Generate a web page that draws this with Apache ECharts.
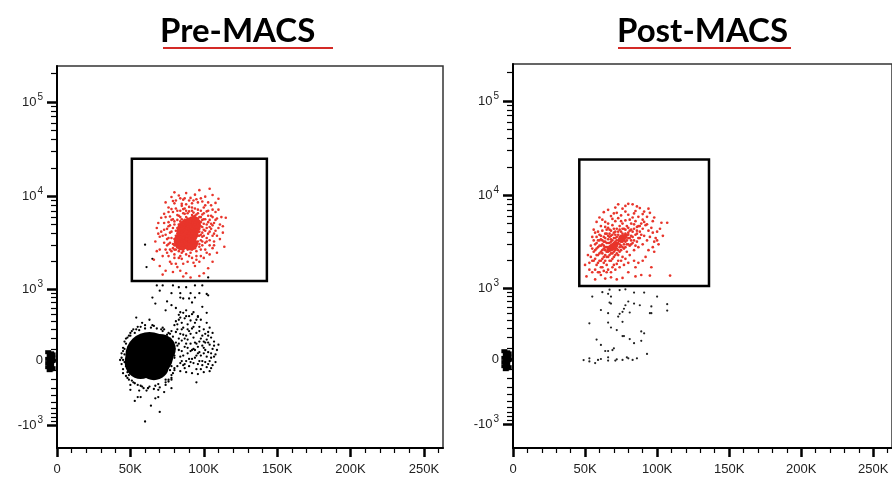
<!DOCTYPE html>
<html><head><meta charset="utf-8">
<script src="https://cdn.jsdelivr.net/npm/echarts@6/dist/echarts.min.js"></script>
<style>html,body{margin:0;padding:0;background:#fff}#c{width:892px;height:477px}</style>
</head><body><div id="c"></div><script>
// ---------- data (x in thousands, y raw fluorescence) ----------
const panelTitles = ['Pre-MACS', 'Post-MACS'];
const xMajorVals = [0, 50, 100, 150, 200, 250];
const xMajorLabels = ['0', '50K', '100K', '150K', '200K', '250K'];
const xMinorVals = [10,20,30,40,60,70,80,90,110,120,130,140,160,170,180,190,210,220,230,240,260];
const yMajorVals = [-1000, 0, 1000, 10000, 100000];
const yMajorLabels = ['-10{s|3}', '0', '10{s|3}', '10{s|4}', '10{s|5}'];
const yMinorVals = [-900,-800,-700,-600,-500,-400,-300,-200,-100,100,200,300,400,500,600,700,800,900,
  2000,3000,4000,5000,6000,7000,8000,9000,20000,30000,40000,50000,60000,70000,80000,90000,200000];

const preGate = [[51, 1230], [143, 25000]];
const postGate = [[46, 1055], [136, 24000]];

const preRed = [
[66,2100],[68,2600],[67,3300],[70,1800],[71,4200],[69,5200],[72,2300],[73,6500],[74,1600],[75,3000],[76,7600],[74,8600],[78,9800],[80,11000],[83,10200],[86,9200],[88,10800],[91,9600],[94,10400],[97,11600],[101,9900],[104,12000],[106,10300],[108,8500],[110,7200],[112,6000],[115,5900],[113,4800],[111,3500],[114,2900],[109,2500],[106,2000],[103,1700],[100,1500],[97,1400],[94,1800],[91,1350],[88,1500],[86,1380],[84,1600],[81,1900],[79,1550],[77,2000],[72,1450],[70,3700],[68,4600],[113,4100],[110,9400],[99,8800],[85,8300],
[75,4500],[76,3600],[77,2700],[78,5600],[78,4200],[79,3100],[79,6800],[80,2400],[80,5000],[81,3800],[81,7400],[82,2900],[82,4600],[83,6200],[83,2200],[84,3400],[84,5400],[85,4100],[85,7900],[86,2600],[86,6600],[87,3700],[87,4900],[88,2900],[88,8200],[89,5800],[89,3300],[90,4400],[90,6900],[91,2500],[91,3900],[92,5200],[92,7600],[93,3000],[93,4700],[94,6200],[94,3500],[95,2300],[95,5500],[96,4200],[96,7200],[97,3100],[97,6000],[98,4800],[98,2700],[99,5600],[99,3700],[100,4400],[100,6600],[101,3200],[102,5000],[102,2500],[103,4000],[103,7000],[104,5600],[104,3400],[105,4500],[105,6200],[106,3800],[107,5200],[108,4300],[106,2800],[101,8000],[96,8600],[90,9000],[84,9500],[80,8400],[77,6100],[76,5300],[74,3900],[73,3200],[75,2500],[78,1900],[82,1750],[86,1900],[89,2000],[93,1950],[97,2000],[100,2200],[104,2400],[107,3300],[109,5800],[108,6800],[105,8000],[100,7600],
[80,3500],[81,4300],[82,3200],[83,5000],[83,3800],[84,4500],[84,2800],[85,3300],[85,5700],[86,4300],[86,3600],[87,5200],[87,2900],[88,4600],[88,3500],[88,6000],[89,4000],[89,2700],[90,3600],[90,5100],[91,4700],[91,3200],[92,4000],[92,6300],[93,3700],[93,5500],[94,4300],[94,2800],[95,3900],[95,4700],[96,3300],[96,5800],[97,4500],[97,3800],[98,5300],[98,3400],[99,4100],[99,6400],[86,5000],[87,6500],[84,6000],[82,5600],[81,2700],[89,6600],[91,5800],[93,6700],[95,6400],[97,2900],[92,2700],[85,2500],
[71,5900],[73,4400],[74,2700],[76,2300],[79,8900],[82,7000],[87,7400],[92,8400],[95,9300],[102,6900],[104,4700],[106,6000],[107,4000],[102,3600],[99,3000],[95,2600],[90,2300],[85,2150],[80,2200],[78,2600],[76,3100],[77,4900],[79,5700],
[79,4600],[80,5400],[81,3100],[82,4000],[83,4400],[83,2600],[84,3700],[85,4800],[86,3000],[87,4400],[87,5600],[88,3200],[89,4800],[89,5400],[90,3300],[90,4000],[91,4300],[91,5300],[92,3500],[92,4500],[93,4200],[93,6100],[94,3800],[94,5000],[95,3200],[95,4400],[96,3800],[96,5100],[97,4200],[97,5400],[98,3900],[98,6000],[99,4700],[99,3300],[100,5100],[100,3800],[101,4300],[101,5700],[102,4600],[102,3300],[103,5300],[104,4200],[78,3600],[77,4100],[76,4800],[79,2800],[80,3000],[82,6300],[84,7000],[86,7300],[88,7000],[90,7700],[92,7000],[94,7400],[96,6600],[98,7000],[100,5700],[103,6200],[105,5100],[106,4900],[108,5600],[110,4600],[109,3800],[107,3000],[104,3000],[101,2700],[98,2300],[95,2100],[92,2200],[88,2400],[84,2300],[80,2700],[77,3200],[75,3500],[73,5200],[74,6000],[76,6800],[78,7300],[81,9000],[87,9500],[93,9000],[98,9500],[103,8600],[106,7200],[111,5000],[72,3800],[70,2700],[69,4000]
];
const preRedCore = [[89, 4200], [85, 3300], [93, 5000], [91, 3100]];

const preBlackCore = [[63, 45], [57, -20], [70, 100], [66, -60]];
const preBlack = [
[68,1100],[72,1100],[79,1100],[83,1050],[88,1050],[94,1100],[99,1100],[65,800],[84,800],[90,780],[94,800],[103,850],
[78,900],[84,900],[91,900],[97,900],[102,880],[86,780],[92,700],[67,680],[78,650],[99,620],[74,560],[84,530],[93,530],[102,520],
[54,450],[63,420],[83,490],[90,470],[95,420],[60,3050],[65,2150],[61,1750],[103,1350],[70,960],[75,720],[81,600],[88,560],[96,470],
[82,300],[84,250],[85,180],[86,320],[87,120],[88,230],[89,60],[90,280],[91,150],[92,10],[93,210],[94,90],[95,260],[96,-40],[97,170],[98,40],[99,230],[100,110],[101,-20],[102,190],[103,70],[104,140],[105,20],[106,100],
[83,90],[84,-30],[86,40],[87,-80],[88,-10],[89,190],[90,-60],[91,80],[92,310],[93,-30],[94,160],[95,-90],[96,120],[97,-10],[98,200],[99,-50],[100,60],[101,250],[102,-70],[103,160],[104,-10],
[80,350],[81,400],[83,420],[85,380],[87,440],[89,360],[91,410],[94,380],[97,330],[100,300],[103,270],[105,210],[107,130],[106,-50],[104,-110],[100,-120],[96,-140],[92,-130],[88,-120],[84,-110],[80,-100],[78,-150],[76,-200],[74,-230],
[81,160],[79,220],[78,280],[80,40],[82,-60],[83,200],[85,80],[86,240],[82,130],[84,30],[86,-50],[88,150],[90,10],[92,90],[94,20],[96,60],[98,-90],[100,170],[102,30],
[46,50],[47,-60],[47,150],[48,-120],[46,100],[49,230],[48,-180],[50,260],[51,-210],[52,300],[53,-240],[55,330],[57,-270],[60,350],[63,-280],[66,340],[69,-250],[72,320],[74,-200],[76,260],[45,0],[46,-20],[49,-150],[51,280],[58,380],[62,-300],[67,-270],[71,300],[75,200],[77,120],[78,-60],[77,-100],[45,80],
[59,-300],[67,-440],[55,-420],[57,-420],[53,-480],[70,-680],[78,-300],[95,-230],[64,-560],[60,-900],[69,-420],[73,-350],[56,-330],[50,-320],
[44,20],[44,-40],[45,110],[45,-90],[46,170],[47,-160],[48,210],[49,-200],[50,230],[52,-230],[53,260],[55,-260],[56,290],[58,-280],[60,310],[62,-300],[64,320],[66,-310],[68,310],[70,-290],[72,280],[74,-260],[75,240],[76,-220],[77,200],[78,-180],[79,150],[79,-130],[80,100],[80,-80],[80,20],[44,60],[43,0],[45,-130],[47,200],[50,-260],[54,300],[57,330],[61,-330],[65,350],[69,-320],[73,300],[77,250],[78,-200],
[85,300],[87,200],[89,300],[91,250],[93,330],[95,150],[97,280],[99,130],[101,160],[103,230],[105,60],[107,170],[108,50],[106,260],[104,320],[102,380],[98,420],[96,460],[92,500],[88,470],[86,520],[84,450],[82,360],[81,270],[83,150],[85,-10],[87,-40],[89,110],[91,-20],[93,100],[95,40],[97,70],[99,-10],[101,90],[103,-40],[105,-80],[107,30],[109,90],[110,140],[108,-20]
];

const postRed = [
[50,1800],[51,1350],[52,2300],[53,1600],[54,2900],[55,3600],[56,4300],[55,2000],[57,1250],[58,5200],[60,5800],[62,5500],[63,6600],[66,7000],[68,6000],[71,7400],[73,8000],[76,7200],[80,8100],[83,8000],[85,6800],[88,7300],[90,6300],[93,5900],[95,6500],[97,5300],[100,4100],[103,5100],[107,5100],[104,3700],[101,3000],[98,2500],[96,1700],[95,1380],[89,1400],[87,1900],[109,1380],[92,2200],[85,1350],[80,1500],[76,1300],[72,1250],[68,1320],[64,1280],[61,1400],[59,1500],[99,3500],[96,4500],[91,5200],
[56,2500],[57,3000],[57,2100],[58,1800],[58,2700],[59,3300],[59,2300],[60,2000],[60,3800],[60,2900],[61,1700],[61,2500],[61,3400],[62,2100],[62,3000],[62,4200],[63,1900],[63,2700],[63,3600],[64,2300],[64,3200],[64,4600],[65,1800],[65,2800],[65,3900],[66,2200],[66,3400],[66,5000],[67,2600],[67,3100],[67,4300],[68,2000],[68,2900],[68,3700],[69,2400],[69,3300],[69,4800],[70,1800],[70,2800],[70,4000],[71,2300],[71,3500],[71,5300],[72,2700],[72,3100],[72,4400],[73,2000],[73,3800],[73,5700],[74,2500],[74,3300],[74,4700],[75,2900],[75,4100],[75,6100],[76,2200],[76,3600],[76,5000],[77,2700],[77,4400],[78,3200],[78,5400],[78,3900],[79,2500],[79,4700],[80,3500],[80,6200],[81,2900],[81,4200],[82,5000],[82,3700],[83,3100],[83,5800],[84,4400],[84,2600],[85,3800],[85,5300],[86,3200],[86,4600],[87,5900],[87,2800],[88,4100],[88,3500],[89,5000],[90,3000],[90,4400],[91,3700],[92,4800],[93,3300],[94,4200],[95,3600],[97,4000],[98,3200],
[58,3600],[59,4100],[56,3300],[55,2700],[54,2200],[57,1600],[60,1500],[63,1550],[66,1600],[69,1700],[72,1850],[75,2000],[78,2100],[81,2300],[84,2000],[66,4500],[69,5600],[72,6500],[75,5300],[78,6700],[81,5500],[84,6400],[87,4700],[90,5500],[93,4900],
[62,2600],[64,2800],[66,2500],[68,3200],[70,3500],[72,3300],[74,3000],[76,3900],[78,3500],[80,4000],[64,3500],[67,3600],[70,2500],[73,2600],[76,2800],[79,3000],[82,3300],[65,2200],[69,2100],[71,2800],[74,3600],[77,3300],[80,3800],[83,4100],[86,3900],[61,2900],[63,3200],[67,2300],[71,4100],[75,3400],
[58,2300],[59,2800],[60,2400],[60,3300],[61,2000],[61,3700],[62,2400],[62,3300],[63,2200],[63,2900],[64,2000],[64,2600],[64,3900],[65,2500],[65,3100],[65,4300],[66,2800],[66,3100],[66,3700],[67,2000],[67,2800],[67,3900],[68,2400],[68,3400],[68,4200],[69,2700],[69,3000],[69,3800],[70,2200],[70,3100],[70,4400],[71,2600],[71,3200],[71,3800],[72,2400],[72,2900],[72,3600],[73,2300],[73,3100],[73,4100],[74,2800],[74,4300],[75,2600],[75,3200],[75,3700],[76,3200],[76,4400],[77,3000],[77,3700],[78,2800],[78,4300],[79,3300],[79,3800],[80,3000],[80,4500],[81,3500],[82,3000],[82,4300],[83,3600],[84,3300],[84,4900],[85,2900],[86,4200],[87,3500],[88,4700],[89,3800],[56,2000],[57,2600],[58,3100],[59,1900],[62,1700],[65,1500],[68,1500],[71,1600],[74,1700],[77,1800],[80,1900],[85,1700],[90,2000],[94,2600],[97,2800],[100,3300],[102,4400],[98,5800],[94,7200],[91,6700],[86,7600],[78,7700],[70,6400],[64,5200],[61,4700],[57,4000],[53,1900],[55,1500]
];
const postRedCore = [[69, 2800], [76, 3500]];
const postBlack = [
[55,800],[62,900],[67,960],[66,860],[68,800],[74,950],[78,970],[84,890],[91,890],[100,800],[80,700],[84,660],[88,630],[78,630],[67,680],[68,660],[96,610],[107,650],[107,540],[61,550],[77,570],[76,520],[81,510],[66,500],[74,490],[95,500],[96,500],[73,450],[76,380],[53,360],[66,370],[68,310],[72,280],[89,265],[91,245],[58,180],[76,215],[77,215],[81,185],[84,145],[89,168],[61,128],[70,96],[69,80],[64,72],[66,72],[93,45],
[49,-10],[53,6],[53,-24],[57,-40],[59,-9],[61,0],[66,15],[66,-15],[71,-15],[72,-3],[76,-9],[79,15],[80,6],[83,-9],[86,6]
];
const offscale = [[-3,-80],[-4,60],[-5,0],[-3,20],[-6,-30],[-4,-50],[-5,40],[-3,-10],[-6,10],[-4,-90],[-5,-60],[-6,70],[-3,50],[-5,-100],[-4,-20],[-4,30],[-6,-70]];

// ---------- scale ----------
const K = 40.9, C = 365;
function tf(v) { const u = K * Math.asinh(v / C); return v < 0 ? u * 0.92 : u; }
const conv = arr => arr.map(p => [p[0], tf(p[1])]);

const RED = '#e8352b';
const grids = [
  { left: 57, top: 66, width: 386, height: 382, ymin: -88, ymax: 294 },
  { left: 513, top: 64, width: 386, height: 384, ymin: -89, ymax: 295 }
];

const xAxes = [], yAxes = [];
grids.forEach((g, i) => {
  xAxes.push({
    gridIndex: i, type: 'value', min: 0, max: 263, position: 'bottom',
    axisLine: { show: true, onZero: false, lineStyle: { color: '#000', width: 2 } },
    axisTick: { show: true, customValues: xMajorVals, length: 9, lineStyle: { color: '#000', width: 2.5 } },
    axisLabel: { show: true, customValues: xMajorVals, margin: 15, color: '#222', fontSize: 13, fontFamily: 'Liberation Sans',
      formatter: v => { const k = xMajorVals.indexOf(v); return k >= 0 ? xMajorLabels[k] : ''; } },
    splitLine: { show: false }
  });
  xAxes.push({
    gridIndex: i, type: 'value', min: 0, max: 263, position: 'bottom',
    axisLine: { show: false, onZero: false },
    axisTick: { show: true, customValues: xMinorVals, length: 5, lineStyle: { color: '#000', width: 1.2 } },
    axisLabel: { show: false }, splitLine: { show: false }
  });
  yAxes.push({
    gridIndex: i, type: 'value', min: g.ymin, max: g.ymax, position: 'left',
    axisLine: { show: true, onZero: false, lineStyle: { color: '#000', width: 2 } },
    axisTick: { show: true, customValues: yMajorVals.map(tf), length: 10, lineStyle: { color: '#000', width: 2.5 } },
    axisLabel: { show: true, customValues: yMajorVals.map(tf), margin: 14, color: '#222', fontSize: 13, fontFamily: 'Liberation Sans',
      formatter: v => { const k = yMajorVals.findIndex(t => Math.abs(tf(t) - v) < 0.5); return k >= 0 ? yMajorLabels[k] : ''; },
      rich: { s: { fontSize: 10, color: '#222', fontFamily: 'Liberation Sans', padding: [0, 0, 9, 1] } } },
    splitLine: { show: false }
  });
  yAxes.push({
    gridIndex: i, type: 'value', min: g.ymin, max: g.ymax, position: 'left',
    axisLine: { show: false, onZero: false },
    axisTick: { show: true, customValues: yMinorVals.map(tf), length: 6, lineStyle: { color: '#000', width: 1.2 } },
    axisLabel: { show: false }, splitLine: { show: false }
  });
});

function gateArea(gate) {
  return {
    silent: true,
    itemStyle: { color: 'rgba(0,0,0,0)', borderColor: '#000', borderWidth: 2.5, opacity: 1 },
    data: [[{ coord: [gate[0][0], tf(gate[0][1])] }, { coord: [gate[1][0], tf(gate[1][1])] }]]
  };
}

const preCoreSizes = [[48, 46], [32, 34], [32, 30], [30, 28]];
const preRedCoreSizes = [[22, 26], [16, 18], [15, 17], [15, 13]];
const postRedCoreSizes = [[14, 7], [12, 6]];

const dot = (color) => ({ color: color, opacity: 1 });
const series = [
  // Pre-MACS
  { type: 'scatter', xAxisIndex: 0, yAxisIndex: 0, data: conv(preBlackCore), symbolSize: (v, p) => preCoreSizes[p.dataIndex], itemStyle: dot('#000'), silent: true },
  { type: 'scatter', xAxisIndex: 0, yAxisIndex: 0, data: conv(preBlack), symbolSize: 2.3, itemStyle: dot('#000'), silent: true },
  { type: 'scatter', xAxisIndex: 0, yAxisIndex: 0, data: conv(preRedCore), symbolSize: (v, p) => preRedCoreSizes[p.dataIndex], itemStyle: dot(RED), silent: true },
  { type: 'scatter', xAxisIndex: 0, yAxisIndex: 0, data: conv(preRed), symbolSize: 2.6, itemStyle: dot(RED), silent: true, markArea: gateArea(preGate) },
  { type: 'scatter', xAxisIndex: 0, yAxisIndex: 0, data: conv(offscale), symbol: 'rect', symbolSize: [6, 4], clip: false, itemStyle: dot('#000'), silent: true },
  // Post-MACS
  { type: 'scatter', xAxisIndex: 2, yAxisIndex: 2, data: conv(postBlack), symbolSize: 2.2, itemStyle: dot('#222'), silent: true },
  { type: 'scatter', xAxisIndex: 2, yAxisIndex: 2, data: conv(postRedCore), symbolSize: (v, p) => postRedCoreSizes[p.dataIndex], symbolRotate: 35, itemStyle: dot(RED), silent: true },
  { type: 'scatter', xAxisIndex: 2, yAxisIndex: 2, data: conv(postRed), symbolSize: 2.7, itemStyle: dot(RED), silent: true, markArea: gateArea(postGate) },
  { type: 'scatter', xAxisIndex: 2, yAxisIndex: 2, data: conv(offscale), symbol: 'rect', symbolSize: [6, 4], clip: false, itemStyle: dot('#000'), silent: true }
];

const titleCenters = [240, 697];
const underlines = [[163, 333], [618, 791]];
const graphic = [];
panelTitles.forEach((t, i) => {
  graphic.push({ type: 'text', left: titleCenters[i] - 80, top: 15, silent: true,
    style: { text: t, font: 'bold 33px Lato', fill: '#000', textAlign: 'center', x: 80, width: 160 } });
  graphic.push({ type: 'line', silent: true, shape: { x1: underlines[i][0], y1: 48, x2: underlines[i][1], y2: 48 },
    style: { stroke: '#d42a26', lineWidth: 2 } });
});

const chart = echarts.init(document.getElementById('c'), null, { renderer: 'canvas' });
chart.setOption({
  animation: false,
  backgroundColor: '#fff',
  grid: grids.map(g => ({ left: g.left, top: g.top, width: g.width, height: g.height, show: true, borderColor: '#333', borderWidth: 1.5, backgroundColor: '#fff', containLabel: false })),
  xAxis: xAxes, yAxis: yAxes, series: series, graphic: graphic
});
</script></body></html>
